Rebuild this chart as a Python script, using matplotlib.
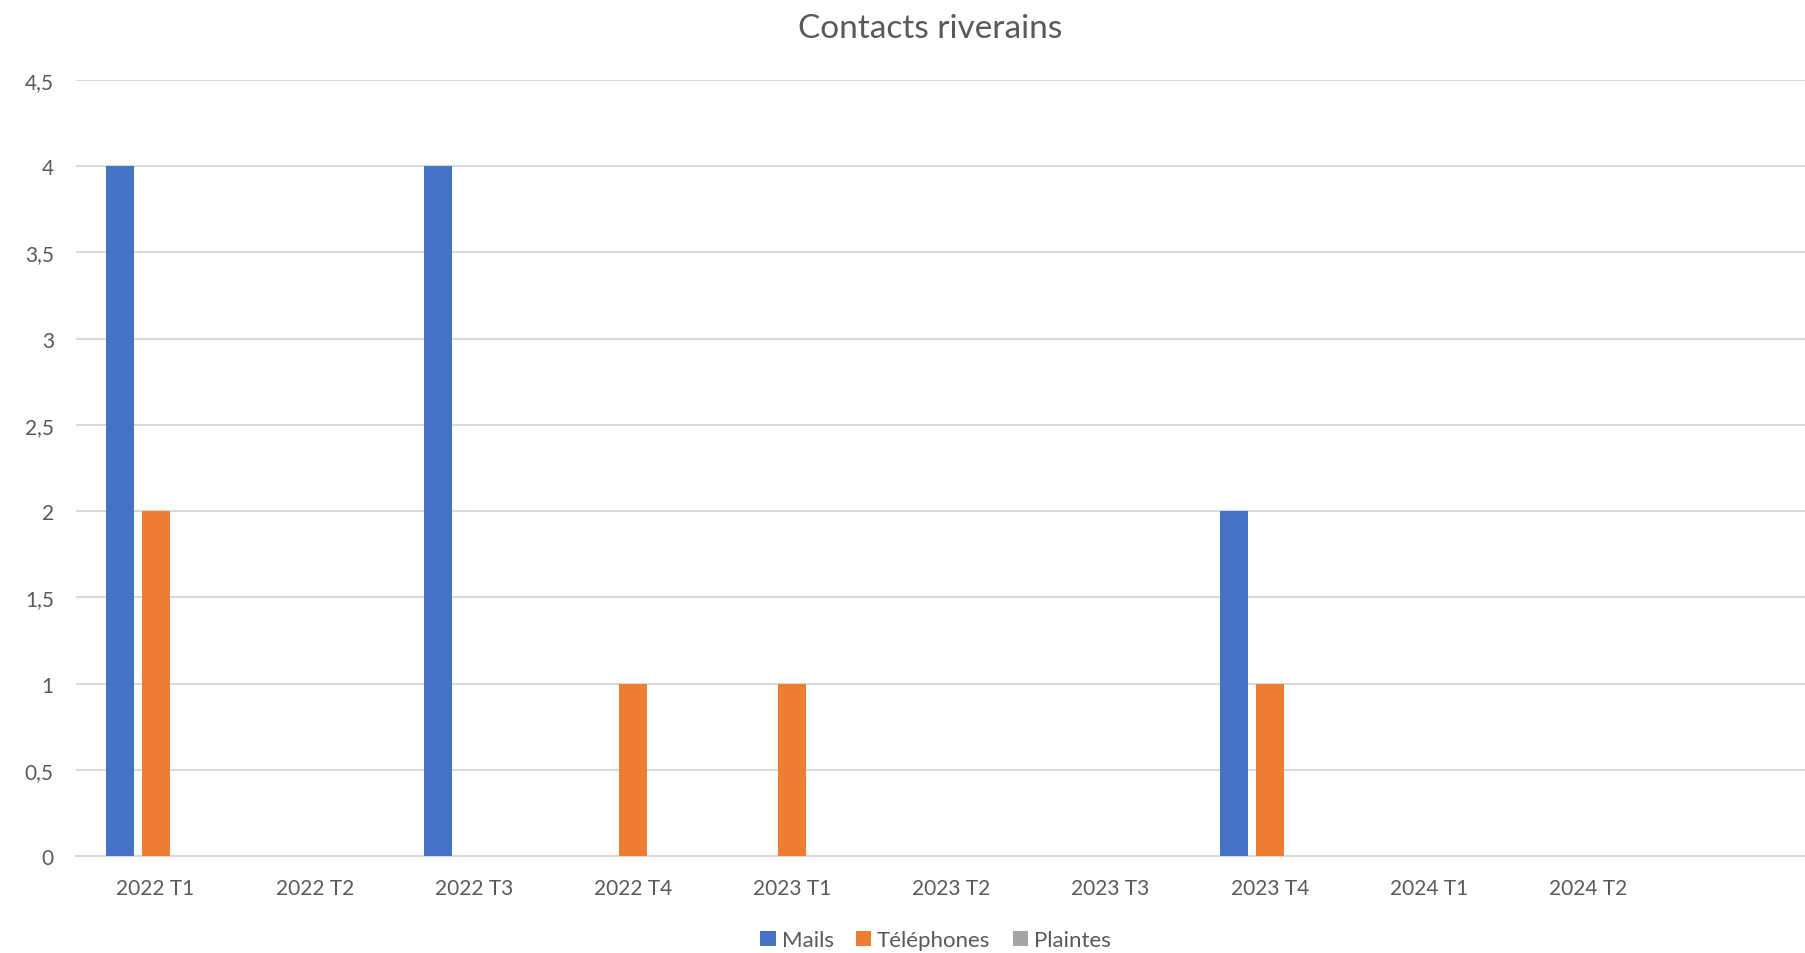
import numpy as np
import matplotlib.pyplot as plt

plt.rcParams['font.family'] = ['Lato', 'DejaVu Sans']

categories = ["2022 T1", "2022 T2", "2022 T3", "2022 T4", "2023 T1",
              "2023 T2", "2023 T3", "2023 T4", "2024 T1", "2024 T2"]
mails = [4, 0, 4, 0, 0, 0, 0, 2, 0, 0]
telephones = [2, 0, 0, 1, 1, 0, 0, 1, 0, 0]
plaintes = [0, 0, 0, 0, 0, 0, 0, 0, 0, 0]

series = [("Mails", mails, "#4472C4"),
          ("Téléphones", telephones, "#ED7D31"),
          ("Plaintes", plaintes, "#A5A5A5")]

txt = "#595959"

fig = plt.figure(figsize=(18.06, 9.54), dpi=100)
ax = fig.add_axes([0.0421, 0.1017, 0.9579, 0.8134])

x = np.arange(len(categories))
w = 0.176
step = 0.226
for i, (name, vals, col) in enumerate(series):
    ax.bar(x + (i - 1) * step, vals, width=w, color=col, label=name, zorder=3)

ax.set_xlim(-0.5, 10.37)
ax.set_ylim(0, 4.5)
yt = np.arange(0, 4.51, 0.5)
ax.set_yticks(yt)
ax.set_yticklabels([("%g" % v).replace(".", ",") for v in yt])
ax.set_xticks(x)
ax.set_xticklabels(categories)
ax.grid(axis="y", color="#d9d9d9", linewidth=1.5, zorder=0)
for s in ["top", "right", "left"]:
    ax.spines[s].set_visible(False)
ax.spines["bottom"].set_color("#d9d9d9")
ax.spines["bottom"].set_linewidth(1.5)
ax.tick_params(axis="both", length=0, labelsize=15, colors=txt)
ax.tick_params(axis="x", pad=16)
ax.tick_params(axis="y", pad=16)

fig.text(0.515, 0.97, "Contacts riverains", ha="center", va="center",
         fontsize=24, color=txt)

leg = fig.legend(loc="center", bbox_to_anchor=(0.518, 0.0135), ncol=3,
                 frameon=False, fontsize=16, handlelength=0.7,
                 handleheight=0.7, handletextpad=0.25, columnspacing=1.0)
for t in leg.get_texts():
    t.set_color(txt)

fig.savefig("out.png", dpi=100)
